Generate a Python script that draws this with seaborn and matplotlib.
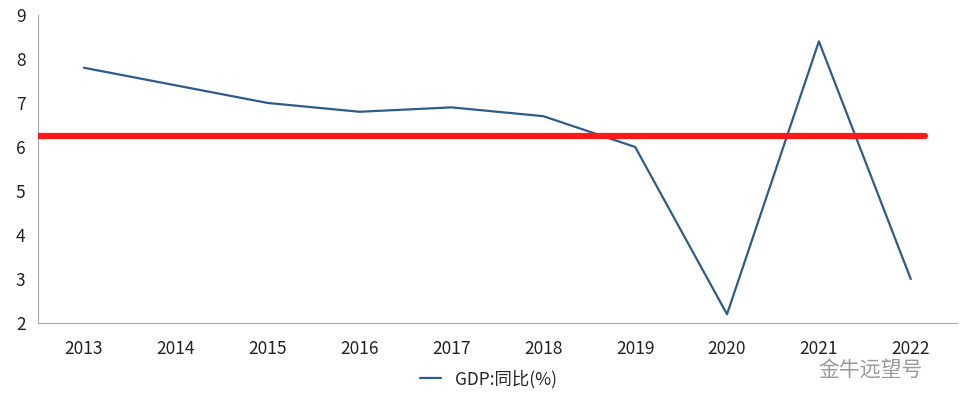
import matplotlib
matplotlib.use("Agg")
import matplotlib.pyplot as plt
import seaborn as sns
import pandas as pd

years = ["2013", "2014", "2015", "2016", "2017", "2018", "2019", "2020", "2021", "2022"]
gdp_yoy = [7.8, 7.4, 7.0, 6.8, 6.9, 6.7, 6.0, 2.2, 8.4, 3.0]
ref_level = 6.25
y_ticks = [2, 3, 4, 5, 6, 7, 8, 9]

sns.set_style("white")
plt.rcParams["font.family"] = ["Noto Sans CJK SC", "DejaVu Sans"]

df = pd.DataFrame({"year": years, "GDP:同比(%)": gdp_yoy})
x_pos = list(range(len(years)))

fig = plt.figure(figsize=(9.62, 3.93), dpi=100)
ax = fig.add_axes([0.0395, 0.178, 0.955, 0.784])

# GDP line
sns.lineplot(x=x_pos, y=df["GDP:同比(%)"], ax=ax, color="#2f5b8a", linewidth=1.6,
             label="GDP:同比(%)")
# red reference line
ax.plot([-0.5, 9.15], [ref_level, ref_level], color="#ff1a1a", linewidth=4.5,
        solid_capstyle="round", zorder=3)

ax.set_xlim(-0.5, 9.5)
ax.set_ylim(2, 9)
ax.set_yticks(y_ticks)
ax.set_xticks(x_pos)
ax.set_xticklabels(years)
ax.set_xlabel("")
ax.set_ylabel("")
for s in ["top", "right"]:
    ax.spines[s].set_visible(False)
for s in ["left", "bottom"]:
    ax.spines[s].set_color("#a6a6a6")
ax.tick_params(axis="both", which="both", length=5, color="#a6a6a6",
               labelsize=12.5, labelcolor="#222222", direction="out")
ax.tick_params(axis="x", pad=7)
ax.tick_params(axis="y", pad=4)

ax.legend(loc="upper center", bbox_to_anchor=(0.49, -0.1), frameon=False,
          fontsize=12.5, handlelength=1.2)

# watermark
fig.text(0.905, 0.06, "金牛远望号", fontsize=15, color="#555555", alpha=0.6,
         ha="center", va="center")

fig.savefig("out.png", dpi=100)
